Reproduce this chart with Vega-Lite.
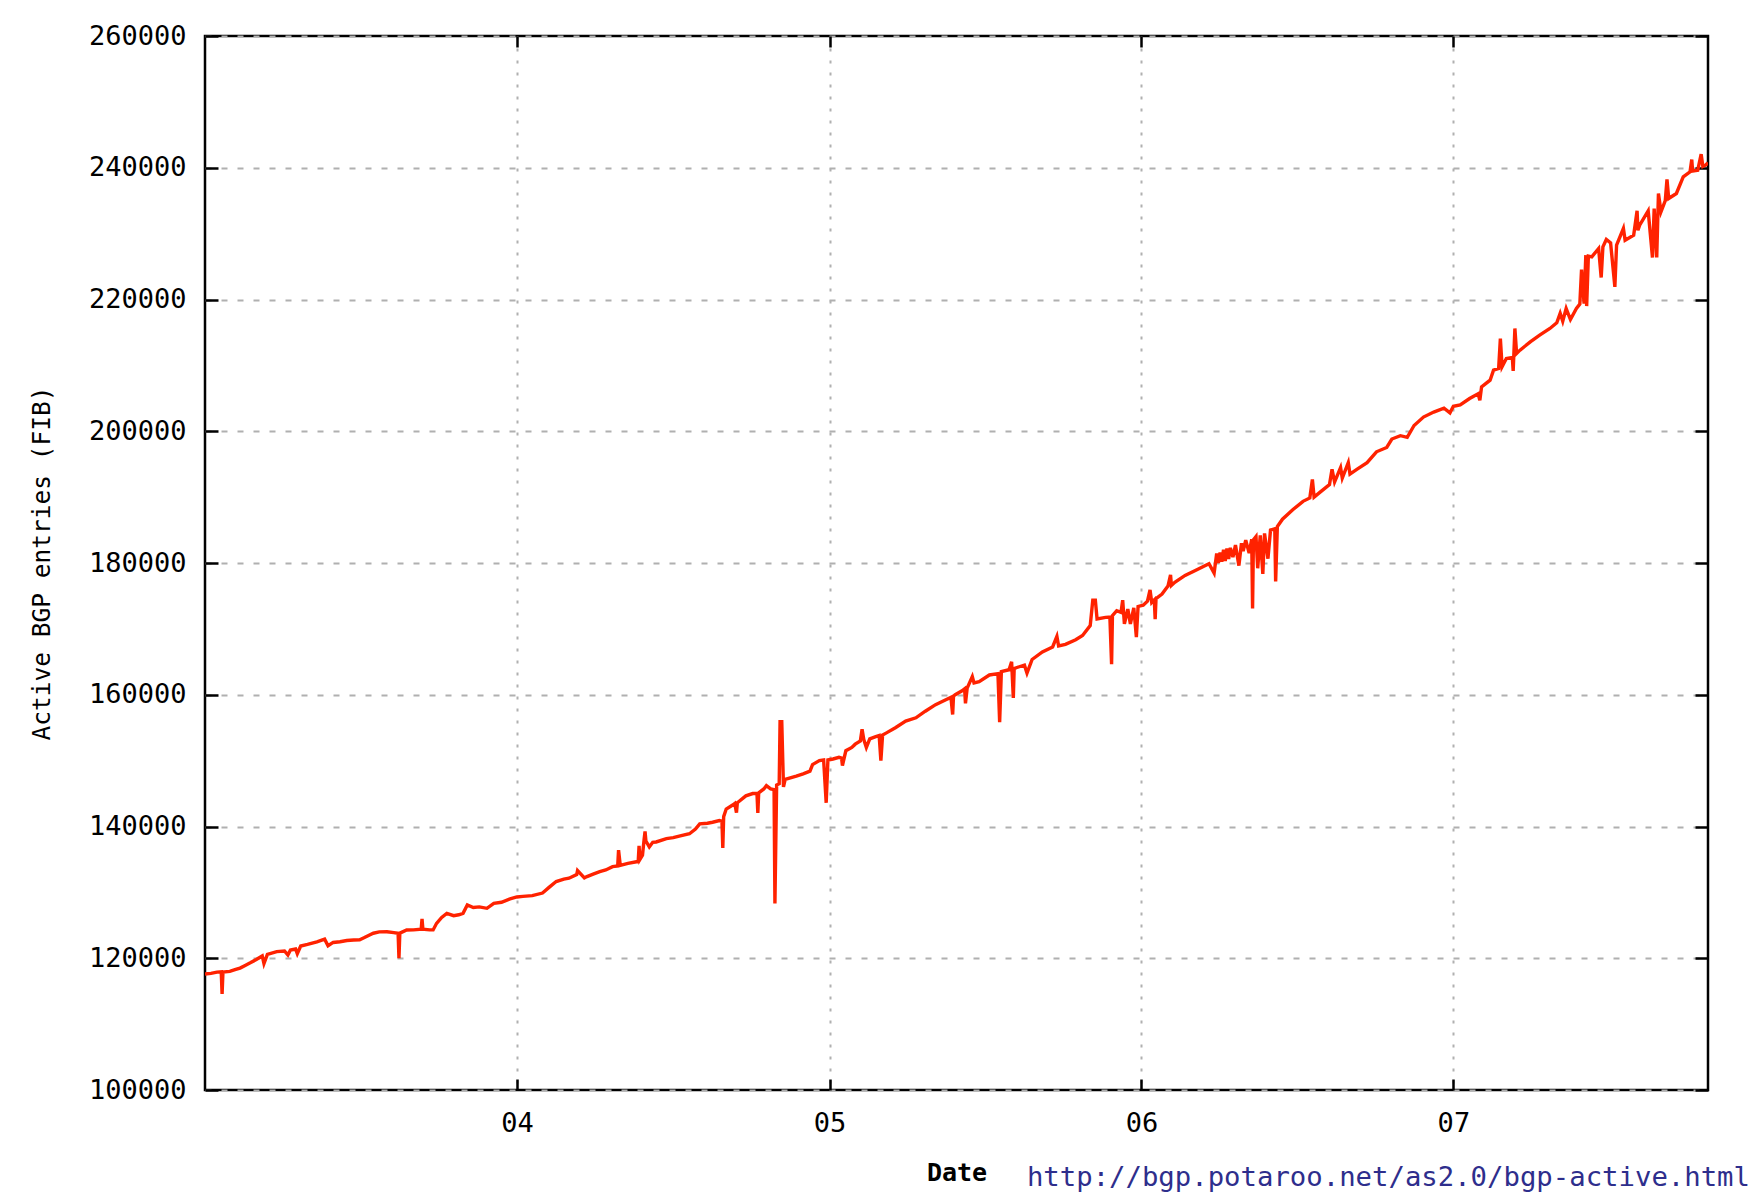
{
  "$schema": "https://vega.github.io/schema/vega-lite/v6.json",
  "width": 1503,
  "height": 1054,
  "autosize": {"type": "none"},
  "padding": {"left": 205, "top": 36, "right": 45, "bottom": 109},
  "background": "white",
  "config": {
    "view": {"stroke": "#000000", "strokeWidth": 2.5},
    "font": "DejaVu Sans Mono"
  },
  "title": {
    "text": "http://bgp.potaroo.net/as2.0/bgp-active.html",
    "orient": "bottom",
    "anchor": "end",
    "frame": "group",
    "dx": 42,
    "offset": -21,
    "font": "DejaVu Sans Mono",
    "fontSize": 27.3,
    "fontWeight": "normal",
    "color": "#2e2e8c"
  },
  "data": {
    "values": [
      {"date": "2003-01-01", "entries": 117600},
      {"date": "2003-01-08", "entries": 117700},
      {"date": "2003-01-15", "entries": 117900},
      {"date": "2003-01-20", "entries": 117950},
      {"date": "2003-01-21", "entries": 114600},
      {"date": "2003-01-22", "entries": 117900},
      {"date": "2003-01-30", "entries": 118000},
      {"date": "2003-02-06", "entries": 118300},
      {"date": "2003-02-11", "entries": 118500},
      {"date": "2003-02-17", "entries": 118900},
      {"date": "2003-02-23", "entries": 119300},
      {"date": "2003-03-02", "entries": 119800},
      {"date": "2003-03-09", "entries": 120350},
      {"date": "2003-03-11", "entries": 119200},
      {"date": "2003-03-15", "entries": 120600},
      {"date": "2003-03-26", "entries": 121000},
      {"date": "2003-04-04", "entries": 121100},
      {"date": "2003-04-08", "entries": 120500},
      {"date": "2003-04-11", "entries": 121250},
      {"date": "2003-04-17", "entries": 121400},
      {"date": "2003-04-19", "entries": 120700},
      {"date": "2003-04-23", "entries": 121860},
      {"date": "2003-05-01", "entries": 122100},
      {"date": "2003-05-12", "entries": 122500},
      {"date": "2003-05-21", "entries": 122900},
      {"date": "2003-05-25", "entries": 121900},
      {"date": "2003-05-31", "entries": 122400},
      {"date": "2003-06-08", "entries": 122500},
      {"date": "2003-06-16", "entries": 122700},
      {"date": "2003-06-24", "entries": 122770},
      {"date": "2003-07-01", "entries": 122800},
      {"date": "2003-07-06", "entries": 123100},
      {"date": "2003-07-12", "entries": 123500},
      {"date": "2003-07-17", "entries": 123800},
      {"date": "2003-07-24", "entries": 124000},
      {"date": "2003-08-02", "entries": 124030},
      {"date": "2003-08-10", "entries": 123900},
      {"date": "2003-08-15", "entries": 123800},
      {"date": "2003-08-16", "entries": 120000},
      {"date": "2003-08-17", "entries": 123800},
      {"date": "2003-08-25", "entries": 124290},
      {"date": "2003-09-02", "entries": 124300},
      {"date": "2003-09-11", "entries": 124400},
      {"date": "2003-09-12", "entries": 125960},
      {"date": "2003-09-13", "entries": 124400},
      {"date": "2003-09-21", "entries": 124300},
      {"date": "2003-09-25", "entries": 124300},
      {"date": "2003-09-29", "entries": 125300},
      {"date": "2003-10-05", "entries": 126200},
      {"date": "2003-10-11", "entries": 126820},
      {"date": "2003-10-19", "entries": 126460},
      {"date": "2003-10-25", "entries": 126600},
      {"date": "2003-10-30", "entries": 126820},
      {"date": "2003-11-04", "entries": 128080},
      {"date": "2003-11-11", "entries": 127700},
      {"date": "2003-11-18", "entries": 127800},
      {"date": "2003-11-27", "entries": 127580},
      {"date": "2003-12-05", "entries": 128340},
      {"date": "2003-12-14", "entries": 128500},
      {"date": "2003-12-24", "entries": 129000},
      {"date": "2004-01-01", "entries": 129300},
      {"date": "2004-01-08", "entries": 129400},
      {"date": "2004-01-19", "entries": 129500},
      {"date": "2004-01-31", "entries": 129900},
      {"date": "2004-02-08", "entries": 130800},
      {"date": "2004-02-16", "entries": 131650},
      {"date": "2004-02-25", "entries": 132000},
      {"date": "2004-03-02", "entries": 132150},
      {"date": "2004-03-11", "entries": 132700},
      {"date": "2004-03-12", "entries": 133300},
      {"date": "2004-03-20", "entries": 132200},
      {"date": "2004-03-23", "entries": 132400},
      {"date": "2004-03-31", "entries": 132800},
      {"date": "2004-04-07", "entries": 133150},
      {"date": "2004-04-14", "entries": 133400},
      {"date": "2004-04-22", "entries": 133900},
      {"date": "2004-04-28", "entries": 134000},
      {"date": "2004-04-29", "entries": 136400},
      {"date": "2004-05-01", "entries": 134100},
      {"date": "2004-05-10", "entries": 134400},
      {"date": "2004-05-20", "entries": 134650},
      {"date": "2004-05-22", "entries": 134700},
      {"date": "2004-05-23", "entries": 137050},
      {"date": "2004-05-24", "entries": 135000},
      {"date": "2004-05-27", "entries": 135650},
      {"date": "2004-05-29", "entries": 138150},
      {"date": "2004-05-30", "entries": 139250},
      {"date": "2004-05-31", "entries": 137800},
      {"date": "2004-06-04", "entries": 136900},
      {"date": "2004-06-08", "entries": 137600},
      {"date": "2004-06-12", "entries": 137650},
      {"date": "2004-06-24", "entries": 138150},
      {"date": "2004-07-02", "entries": 138300},
      {"date": "2004-07-09", "entries": 138550},
      {"date": "2004-07-21", "entries": 138900},
      {"date": "2004-07-28", "entries": 139600},
      {"date": "2004-08-02", "entries": 140400},
      {"date": "2004-08-11", "entries": 140500},
      {"date": "2004-08-17", "entries": 140650},
      {"date": "2004-08-25", "entries": 140900},
      {"date": "2004-08-28", "entries": 140800},
      {"date": "2004-08-29", "entries": 136750},
      {"date": "2004-08-30", "entries": 141500},
      {"date": "2004-09-02", "entries": 142650},
      {"date": "2004-09-10", "entries": 143300},
      {"date": "2004-09-12", "entries": 143500},
      {"date": "2004-09-14", "entries": 142100},
      {"date": "2004-09-15", "entries": 143600},
      {"date": "2004-09-25", "entries": 144650},
      {"date": "2004-10-03", "entries": 145000},
      {"date": "2004-10-08", "entries": 145000},
      {"date": "2004-10-09", "entries": 142050},
      {"date": "2004-10-10", "entries": 145100},
      {"date": "2004-10-16", "entries": 145700},
      {"date": "2004-10-19", "entries": 146200},
      {"date": "2004-10-24", "entries": 145700},
      {"date": "2004-10-28", "entries": 145600},
      {"date": "2004-10-29", "entries": 128300},
      {"date": "2004-10-31", "entries": 146300},
      {"date": "2004-11-03", "entries": 146500},
      {"date": "2004-11-04", "entries": 155900},
      {"date": "2004-11-06", "entries": 155900},
      {"date": "2004-11-08", "entries": 146000},
      {"date": "2004-11-10", "entries": 147150},
      {"date": "2004-11-23", "entries": 147650},
      {"date": "2004-12-01", "entries": 148000},
      {"date": "2004-12-09", "entries": 148400},
      {"date": "2004-12-12", "entries": 149400},
      {"date": "2004-12-20", "entries": 150000},
      {"date": "2004-12-25", "entries": 150100},
      {"date": "2004-12-28", "entries": 143600},
      {"date": "2004-12-30", "entries": 150100},
      {"date": "2005-01-05", "entries": 150250},
      {"date": "2005-01-12", "entries": 150500},
      {"date": "2005-01-15", "entries": 150400},
      {"date": "2005-01-16", "entries": 149250},
      {"date": "2005-01-20", "entries": 151500},
      {"date": "2005-01-27", "entries": 152000},
      {"date": "2005-01-31", "entries": 152500},
      {"date": "2005-02-06", "entries": 153000},
      {"date": "2005-02-08", "entries": 154750},
      {"date": "2005-02-10", "entries": 153200},
      {"date": "2005-02-13", "entries": 152000},
      {"date": "2005-02-17", "entries": 153300},
      {"date": "2005-02-24", "entries": 153650},
      {"date": "2005-02-28", "entries": 153800},
      {"date": "2005-03-02", "entries": 150000},
      {"date": "2005-03-04", "entries": 153900},
      {"date": "2005-03-09", "entries": 154250},
      {"date": "2005-03-19", "entries": 155000},
      {"date": "2005-03-31", "entries": 156000},
      {"date": "2005-04-12", "entries": 156500},
      {"date": "2005-04-23", "entries": 157500},
      {"date": "2005-05-05", "entries": 158500},
      {"date": "2005-05-17", "entries": 159250},
      {"date": "2005-05-23", "entries": 159600},
      {"date": "2005-05-25", "entries": 157000},
      {"date": "2005-05-26", "entries": 159800},
      {"date": "2005-05-28", "entries": 160000},
      {"date": "2005-06-05", "entries": 160600},
      {"date": "2005-06-08", "entries": 160900},
      {"date": "2005-06-09", "entries": 158700},
      {"date": "2005-06-11", "entries": 161000},
      {"date": "2005-06-17", "entries": 162750},
      {"date": "2005-06-19", "entries": 161800},
      {"date": "2005-06-25", "entries": 162000},
      {"date": "2005-07-07", "entries": 163000},
      {"date": "2005-07-17", "entries": 163200},
      {"date": "2005-07-19", "entries": 155850},
      {"date": "2005-07-21", "entries": 163500},
      {"date": "2005-07-30", "entries": 163800},
      {"date": "2005-08-02", "entries": 165000},
      {"date": "2005-08-04", "entries": 159500},
      {"date": "2005-08-05", "entries": 164000},
      {"date": "2005-08-11", "entries": 164250},
      {"date": "2005-08-17", "entries": 164500},
      {"date": "2005-08-20", "entries": 163300},
      {"date": "2005-08-26", "entries": 165350},
      {"date": "2005-09-07", "entries": 166500},
      {"date": "2005-09-19", "entries": 167250},
      {"date": "2005-09-24", "entries": 168850},
      {"date": "2005-09-26", "entries": 167400},
      {"date": "2005-10-04", "entries": 167650},
      {"date": "2005-10-16", "entries": 168350},
      {"date": "2005-10-24", "entries": 169000},
      {"date": "2005-11-02", "entries": 170500},
      {"date": "2005-11-05", "entries": 174350},
      {"date": "2005-11-08", "entries": 174350},
      {"date": "2005-11-10", "entries": 171500},
      {"date": "2005-11-20", "entries": 171750},
      {"date": "2005-11-25", "entries": 171800},
      {"date": "2005-11-27", "entries": 164650},
      {"date": "2005-11-28", "entries": 172000},
      {"date": "2005-12-03", "entries": 172750},
      {"date": "2005-12-08", "entries": 172500},
      {"date": "2005-12-10", "entries": 174350},
      {"date": "2005-12-12", "entries": 170750},
      {"date": "2005-12-16", "entries": 173000},
      {"date": "2005-12-19", "entries": 170750},
      {"date": "2005-12-23", "entries": 173200},
      {"date": "2005-12-26", "entries": 168750},
      {"date": "2005-12-28", "entries": 173400},
      {"date": "2006-01-03", "entries": 173600},
      {"date": "2006-01-08", "entries": 174200},
      {"date": "2006-01-11", "entries": 175910},
      {"date": "2006-01-13", "entries": 174000},
      {"date": "2006-01-16", "entries": 174400},
      {"date": "2006-01-17", "entries": 171460},
      {"date": "2006-01-18", "entries": 174600},
      {"date": "2006-01-25", "entries": 175290},
      {"date": "2006-02-01", "entries": 176500},
      {"date": "2006-02-04", "entries": 178210},
      {"date": "2006-02-05", "entries": 176600},
      {"date": "2006-02-09", "entries": 177080},
      {"date": "2006-02-21", "entries": 178110},
      {"date": "2006-03-05", "entries": 178870},
      {"date": "2006-03-15", "entries": 179500},
      {"date": "2006-03-21", "entries": 179900},
      {"date": "2006-03-27", "entries": 178470},
      {"date": "2006-03-30", "entries": 181430},
      {"date": "2006-04-01", "entries": 180000},
      {"date": "2006-04-03", "entries": 181600},
      {"date": "2006-04-05", "entries": 180200},
      {"date": "2006-04-07", "entries": 182000},
      {"date": "2006-04-09", "entries": 180300},
      {"date": "2006-04-11", "entries": 182200},
      {"date": "2006-04-13", "entries": 180600},
      {"date": "2006-04-15", "entries": 182300},
      {"date": "2006-04-18", "entries": 180900},
      {"date": "2006-04-21", "entries": 182710},
      {"date": "2006-04-25", "entries": 179600},
      {"date": "2006-04-28", "entries": 183000},
      {"date": "2006-04-30", "entries": 181800},
      {"date": "2006-05-03", "entries": 183480},
      {"date": "2006-05-07", "entries": 181500},
      {"date": "2006-05-10", "entries": 183600},
      {"date": "2006-05-11", "entries": 173100},
      {"date": "2006-05-12", "entries": 183500},
      {"date": "2006-05-15", "entries": 184000},
      {"date": "2006-05-17", "entries": 179200},
      {"date": "2006-05-20", "entries": 184200},
      {"date": "2006-05-23", "entries": 178360},
      {"date": "2006-05-25", "entries": 184500},
      {"date": "2006-05-29", "entries": 180660},
      {"date": "2006-06-01", "entries": 185000},
      {"date": "2006-06-06", "entries": 185200},
      {"date": "2006-06-07", "entries": 177190},
      {"date": "2006-06-09", "entries": 185520},
      {"date": "2006-06-15", "entries": 186650},
      {"date": "2006-06-27", "entries": 188080},
      {"date": "2006-07-09", "entries": 189360},
      {"date": "2006-07-17", "entries": 189870},
      {"date": "2006-07-20", "entries": 192690},
      {"date": "2006-07-22", "entries": 190000},
      {"date": "2006-07-28", "entries": 190640},
      {"date": "2006-08-09", "entries": 191920},
      {"date": "2006-08-12", "entries": 194220},
      {"date": "2006-08-15", "entries": 192300},
      {"date": "2006-08-22", "entries": 194480},
      {"date": "2006-08-24", "entries": 192900},
      {"date": "2006-08-31", "entries": 195240},
      {"date": "2006-09-02", "entries": 193500},
      {"date": "2006-09-10", "entries": 194220},
      {"date": "2006-09-22", "entries": 195240},
      {"date": "2006-10-03", "entries": 196880},
      {"date": "2006-10-15", "entries": 197540},
      {"date": "2006-10-21", "entries": 198820},
      {"date": "2006-10-31", "entries": 199330},
      {"date": "2006-11-08", "entries": 199080},
      {"date": "2006-11-16", "entries": 200870},
      {"date": "2006-11-27", "entries": 202150},
      {"date": "2006-12-09", "entries": 202910},
      {"date": "2006-12-21", "entries": 203500},
      {"date": "2006-12-28", "entries": 202800},
      {"date": "2007-01-01", "entries": 203800},
      {"date": "2007-01-09", "entries": 204000},
      {"date": "2007-01-20", "entries": 204970},
      {"date": "2007-01-30", "entries": 205700},
      {"date": "2007-02-01", "entries": 204700},
      {"date": "2007-02-03", "entries": 206740},
      {"date": "2007-02-13", "entries": 207750},
      {"date": "2007-02-17", "entries": 209270},
      {"date": "2007-02-23", "entries": 209530},
      {"date": "2007-02-25", "entries": 214080},
      {"date": "2007-02-27", "entries": 209800},
      {"date": "2007-03-04", "entries": 211040},
      {"date": "2007-03-11", "entries": 211200},
      {"date": "2007-03-12", "entries": 209170},
      {"date": "2007-03-14", "entries": 215600},
      {"date": "2007-03-16", "entries": 211800},
      {"date": "2007-03-20", "entries": 212310},
      {"date": "2007-04-01", "entries": 213570},
      {"date": "2007-04-12", "entries": 214590},
      {"date": "2007-04-24", "entries": 215600},
      {"date": "2007-05-02", "entries": 216460},
      {"date": "2007-05-06", "entries": 217900},
      {"date": "2007-05-09", "entries": 216700},
      {"date": "2007-05-13", "entries": 218630},
      {"date": "2007-05-18", "entries": 216960},
      {"date": "2007-05-25", "entries": 218630},
      {"date": "2007-05-29", "entries": 219300},
      {"date": "2007-05-31", "entries": 224550},
      {"date": "2007-06-03", "entries": 219390},
      {"date": "2007-06-05", "entries": 226730},
      {"date": "2007-06-06", "entries": 219000},
      {"date": "2007-06-08", "entries": 226600},
      {"date": "2007-06-12", "entries": 226480},
      {"date": "2007-06-20", "entries": 227740},
      {"date": "2007-06-23", "entries": 223340},
      {"date": "2007-06-25", "entries": 228000},
      {"date": "2007-06-29", "entries": 229110},
      {"date": "2007-07-04", "entries": 228600},
      {"date": "2007-07-09", "entries": 221920},
      {"date": "2007-07-11", "entries": 228250},
      {"date": "2007-07-19", "entries": 230780},
      {"date": "2007-07-21", "entries": 229010},
      {"date": "2007-07-31", "entries": 229770},
      {"date": "2007-08-04", "entries": 233460},
      {"date": "2007-08-05", "entries": 230500},
      {"date": "2007-08-07", "entries": 231280},
      {"date": "2007-08-17", "entries": 233460},
      {"date": "2007-08-22", "entries": 226380},
      {"date": "2007-08-24", "entries": 233810},
      {"date": "2007-08-27", "entries": 226380},
      {"date": "2007-08-29", "entries": 236090},
      {"date": "2007-09-01", "entries": 233310},
      {"date": "2007-09-06", "entries": 235000},
      {"date": "2007-09-08", "entries": 238220},
      {"date": "2007-09-10", "entries": 235330},
      {"date": "2007-09-19", "entries": 236090},
      {"date": "2007-09-27", "entries": 238620},
      {"date": "2007-10-05", "entries": 239380},
      {"date": "2007-10-07", "entries": 241250},
      {"date": "2007-10-08", "entries": 239500},
      {"date": "2007-10-14", "entries": 239630},
      {"date": "2007-10-18", "entries": 242060},
      {"date": "2007-10-20", "entries": 240200},
      {"date": "2007-10-23", "entries": 240390},
      {"date": "2007-10-26", "entries": 240750}
    ]
  },
  "layer": [
    {
      "mark": {"type": "line", "color": "#ff2200", "strokeWidth": 3.4, "clip": true},
      "encoding": {
        "x": {
          "field": "date",
          "type": "temporal",
          "scale": {
            "type": "utc",
            "domain": [
              {"year": 2003, "month": 1, "date": 1, "utc": true},
              {"year": 2007, "month": 10, "date": 26, "utc": true}
            ]
          },
          "axis": {
            "orient": "bottom",
            "values": [
              {"year": 2004, "month": 1, "date": 1, "utc": true},
              {"year": 2005, "month": 1, "date": 1, "utc": true},
              {"year": 2006, "month": 1, "date": 1, "utc": true},
              {"year": 2007, "month": 1, "date": 1, "utc": true}
            ],
            "format": "%y",
            "domain": false,
            "tickSize": -11,
            "tickWidth": 2.5,
            "tickColor": "#000000",
            "labelFont": "DejaVu Sans Mono",
            "labelFontSize": 27,
            "labelColor": "#000000",
            "labelPadding": 31,
            "grid": true,
            "gridColor": "#b0b0b0",
            "gridWidth": 2,
            "gridDash": [3, 9],
            "title": "Date",
            "titleFont": "DejaVu Sans Mono",
            "titleFontSize": 25,
            "titleFontWeight": "bold",
            "titleColor": "#000000",
            "titlePadding": 24
          }
        },
        "y": {
          "field": "entries",
          "type": "quantitative",
          "scale": {"domain": [100000, 260000], "nice": false, "zero": false},
          "axis": {
            "orient": "left",
            "values": [100000, 120000, 140000, 160000, 180000, 200000, 220000, 240000, 260000],
            "format": "d",
            "domain": false,
            "tickSize": -13,
            "tickWidth": 2.5,
            "tickColor": "#000000",
            "labelFont": "DejaVu Sans Mono",
            "labelFontSize": 27,
            "labelColor": "#000000",
            "labelPadding": 32,
            "grid": true,
            "gridColor": "#b0b0b0",
            "gridWidth": 2,
            "gridDash": [6, 10],
            "title": "Active BGP entries (FIB)",
            "titleFont": "DejaVu Sans Mono",
            "titleFontSize": 24.5,
            "titleFontWeight": "normal",
            "titleColor": "#000000",
            "titlePadding": 34
          }
        }
      }
    },
    {
      "mark": {"type": "line", "opacity": 0},
      "encoding": {
        "x": {
          "field": "date",
          "type": "temporal",
          "axis": {
            "orient": "top",
            "values": [
              {"year": 2004, "month": 1, "date": 1, "utc": true},
              {"year": 2005, "month": 1, "date": 1, "utc": true},
              {"year": 2006, "month": 1, "date": 1, "utc": true},
              {"year": 2007, "month": 1, "date": 1, "utc": true}
            ],
            "labels": false,
            "domain": false,
            "grid": false,
            "tickSize": -11,
            "tickWidth": 2.5,
            "tickColor": "#000000",
            "title": null
          }
        },
        "y": {
          "field": "entries",
          "type": "quantitative",
          "axis": {
            "orient": "right",
            "values": [100000, 120000, 140000, 160000, 180000, 200000, 220000, 240000, 260000],
            "labels": false,
            "domain": false,
            "grid": false,
            "tickSize": -13,
            "tickWidth": 2.5,
            "tickColor": "#000000",
            "title": null
          }
        }
      }
    }
  ],
  "resolve": {"axis": {"x": "independent", "y": "independent"}}
}
